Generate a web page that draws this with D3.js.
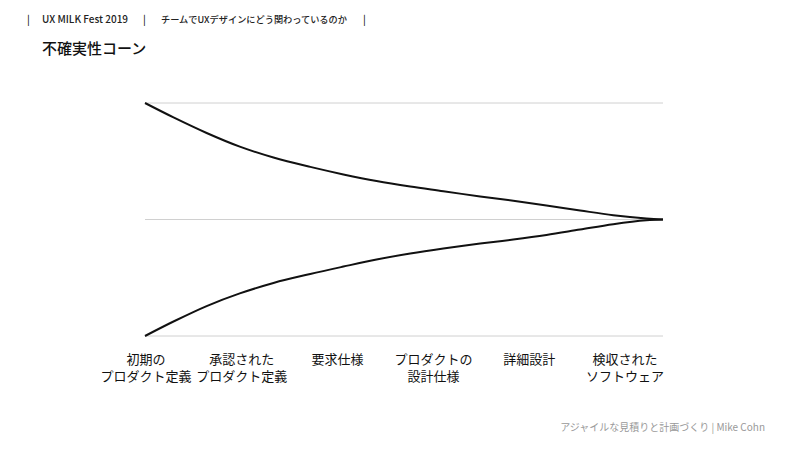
<!DOCTYPE html>
<html>
<head>
<meta charset="utf-8">
<script src="https://cdn.jsdelivr.net/npm/d3@7"></script>
<style>
  html, body { margin: 0; padding: 0; background: #fff; }
  svg { display: block; font-family: "Noto Sans CJK JP", "Noto Sans", sans-serif; }
</style>
</head>
<body>
<svg id="chart" width="800" height="450"></svg>
<script>
// ---- data ----
const stages = [
  ["初期の", "プロダクト定義"],
  ["承認された", "プロダクト定義"],
  ["要求仕様"],
  ["プロダクトの", "設計仕様"],
  ["詳細設計"],
  ["検収された", "ソフトウェア"]
];
const gridValues = [0.25, 1, 4];
// project progress (%) and uncertainty multiplier
const progress = [0, 5.5, 11.9, 18.3, 24.8, 31.9, 38.3, 44.7, 51.2, 57.6, 64.7, 71.1, 77.5, 84.0, 90.4, 96.8, 100];
const upper    = [4.0, 3.37, 2.80, 2.38, 2.09, 1.87, 1.71, 1.58, 1.48, 1.40, 1.315, 1.25, 1.18, 1.113, 1.053, 1.012, 1.0];
const lower    = [0.25, 0.297, 0.357, 0.415, 0.470, 0.523, 0.571, 0.621, 0.667, 0.708, 0.751, 0.788, 0.832, 0.888, 0.946, 0.991, 1.0];

const headerItems = ["|", "UX MILK Fest 2019", "|", "チームでUXデザインにどう関わっているのか", "|"];
const title = "不確実性コーン";
const source = "アジャイルな見積りと計画づくり | Mike Cohn";

// ---- layout ----
const svg = d3.select("#chart");
const x = d3.scaleLinear().domain([0, 100]).range([145, 663]);
const y = d3.scaleLog().domain([0.25, 4]).range([336, 103]);
const xStage = d3.scalePoint().domain(d3.range(stages.length)).range([146, 625]);

// header
const headerX = [27, 42, 143, 161, 363];
const headerSize = [10, 10, 10, 9.2, 10];
svg.append("g").selectAll("text").data(headerItems).join("text")
  .attr("x", (d, i) => headerX[i])
  .attr("y", 23)
  .attr("font-size", (d, i) => headerSize[i])
  .attr("font-weight", 500)
  .attr("fill", "#222")
  .text(d => d);

svg.append("text")
  .attr("x", 42).attr("y", 54)
  .attr("font-size", 15)
  .attr("font-weight", 500)
  .attr("fill", "#111")
  .text(title);

// gridlines
svg.append("g").selectAll("line").data(gridValues).join("line")
  .attr("x1", x(0)).attr("x2", x(100))
  .attr("y1", d => y(d)).attr("y2", d => y(d))
  .attr("stroke", "#d0d0d0")
  .attr("stroke-width", 1);

// curves
const line = d3.line()
  .x(d => x(d[0]))
  .y(d => y(d[1]))
  .curve(d3.curveCatmullRom.alpha(0.5));

[upper, lower].forEach(series => {
  svg.append("path")
    .datum(progress.map((p, i) => [p, series[i]]))
    .attr("d", line)
    .attr("fill", "none")
    .attr("stroke", "#111")
    .attr("stroke-width", 2)
    .attr("stroke-linejoin", "round");
});

// stage labels
const lab = svg.append("g").selectAll("text").data(stages).join("text")
  .attr("text-anchor", "middle")
  .attr("font-size", 13)
  .attr("fill", "#111")
  .attr("transform", (d, i) => `translate(${xStage(i)},364)`);
lab.selectAll("tspan").data(d => d).join("tspan")
  .attr("x", 0)
  .attr("y", (d, i) => i * 16.5)
  .text(d => d);

// source
svg.append("text")
  .attr("x", 765).attr("y", 431)
  .attr("text-anchor", "end")
  .attr("font-size", 10)
  .attr("fill", "#999")
  .text(source);
</script>
</body>
</html>
